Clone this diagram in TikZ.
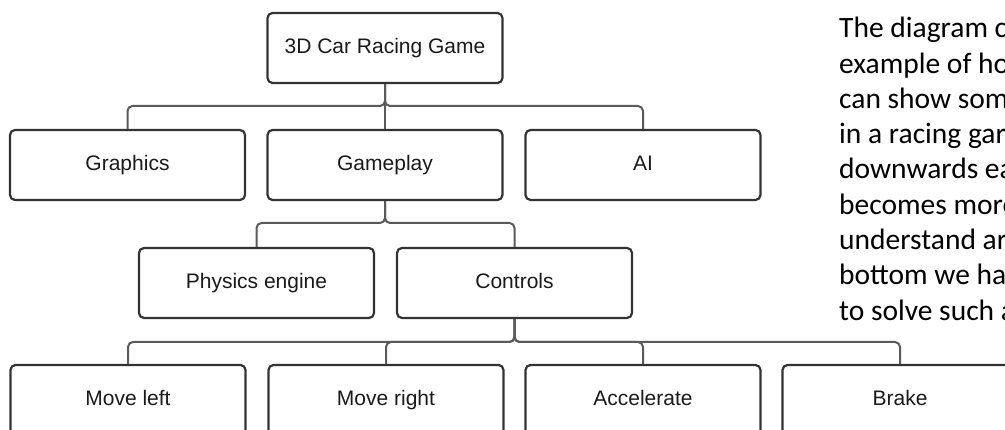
\documentclass[tikz,border=0pt]{standalone}
\usepackage{fontspec}
\setmainfont{Liberation Sans}
\newfontfamily\parafont{Carlito}
\definecolor{boxline}{HTML}{333333}
\definecolor{connline}{HTML}{5A5A5A}
\definecolor{boxtext}{HTML}{1A1A1A}
\begin{document}
\begin{tikzpicture}[x=1pt,y=-1pt,
  box/.style={draw=boxline, line width=2.2pt, rounded corners=5pt, fill=white,
    minimum width=235pt, minimum height=70pt, inner sep=0pt,
    text height=15pt, text depth=4.5pt,
    font=\fontsize{21}{24}\selectfont, text=boxtext},
  conn/.style={draw=connline, line width=2pt, rounded corners=5pt},
  para/.style={anchor=base west, inner sep=0pt, font=\parafont\fontsize{29.5}{35}\selectfont}]
\useasboundingbox (0,0) rectangle (1005,430);
\clip (0,0) rectangle (1005,430);
\coordinate (b1) at (0,106);
\coordinate (b2) at (0,223);
\coordinate (b3) at (0,342);
% nodes
\node[box] (top) at (385,48) {3D Car Racing Game};
\node[box] (gfx) at (127.5,165) {Graphics};
\node[box] (gp) at (385,165) {Gameplay};
\node[box] (ai) at (643,165) {AI};
\node[box] (phy) at (256.5,283) {Physics engine};
\node[box] (ctl) at (514.5,283) {Controls};
\node[box] (ml) at (128,400) {Move left};
\node[box] (mr) at (386,400) {Move right};
\node[box] (acc) at (643,400) {Accelerate};
\node[box] (brk) at (900,400) {Brake};
% connectors
\draw[conn] (top.south) |- (gfx.north |- b1) -- (gfx.north);
\draw[conn] (top.south) |- (ai.north |- b1) -- (ai.north);
\draw[conn] (top.south) -- (gp.north);
\draw[conn] (gp.south) |- (phy.north |- b2) -- (phy.north);
\draw[conn] (gp.south) |- (ctl.north |- b2) -- (ctl.north);
\draw[conn] (ctl.south) |- (ml.north |- b3) -- (ml.north);
\draw[conn] (ctl.south) |- (mr.north |- b3) -- (mr.north);
\draw[conn] (ctl.south) |- (acc.north |- b3) -- (acc.north);
\draw[conn] (ctl.south) |- (brk.north |- b3) -- (brk.north);
% paragraph
\node[para] (t1) at (839,37.8) {The diagram c};
\node[para] (t2) at (839,73.1) {example of ho};
\node[para] (t3) at (839,108.4) {can show som};
\node[para] (t4) at (839,143.7) {in a racing gar};
\node[para] (t5) at (839,179) {downwards ea};
\node[para] (t6) at (839,214.3) {becomes more};
\node[para] (t7) at (839,249.6) {understand ar};
\node[para] (t8) at (839,284.9) {bottom we ha};
\node[para] (t9) at (839,320.2) {to solve such a};
\end{tikzpicture}
\end{document}
